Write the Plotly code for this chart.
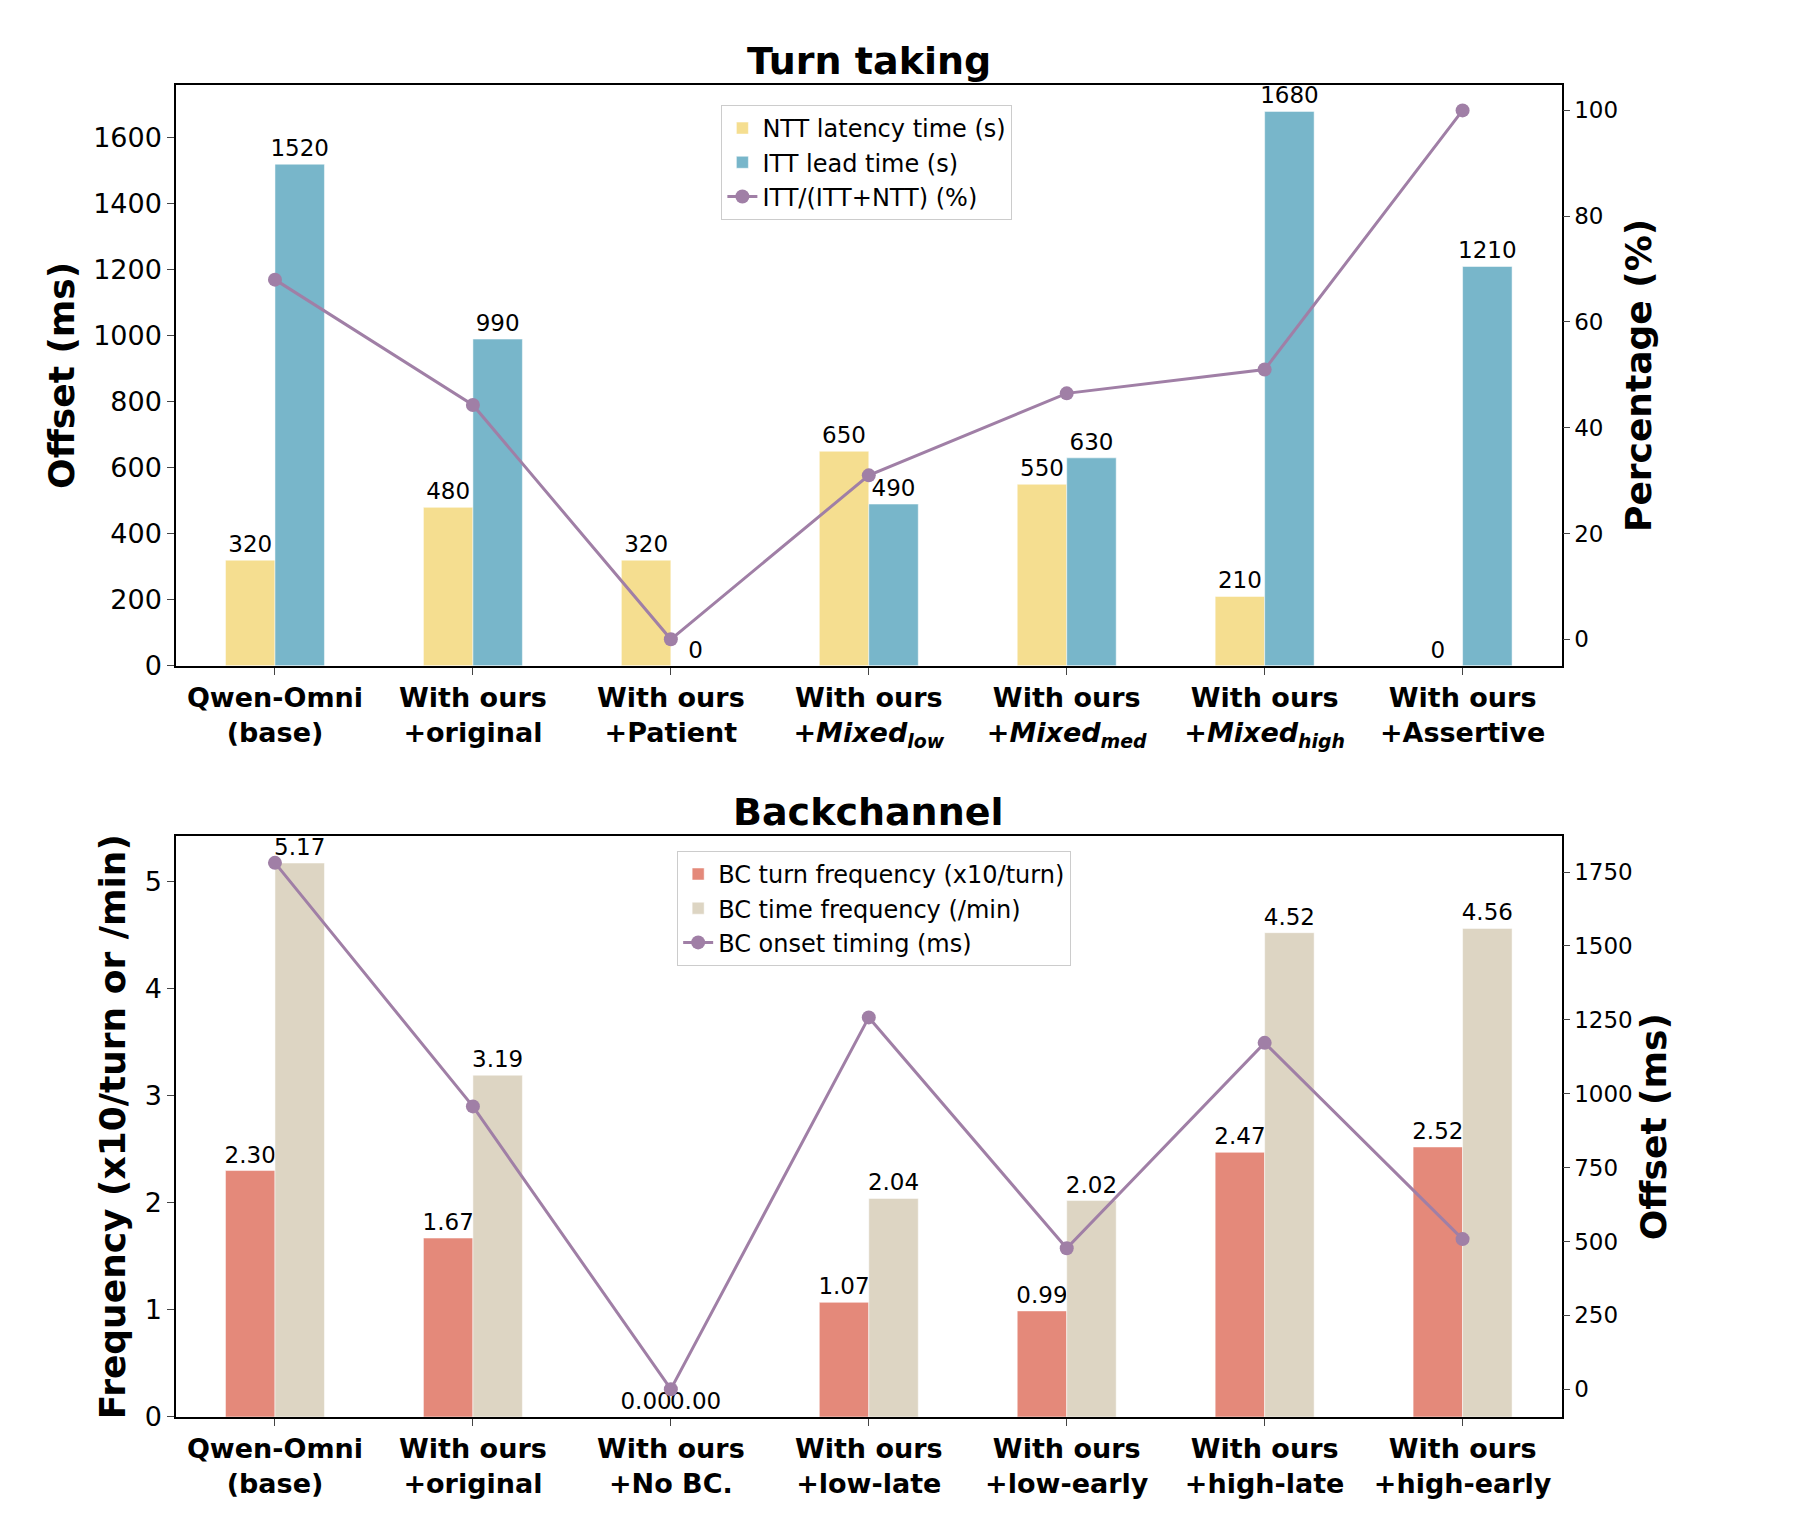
import plotly.graph_objects as go
from plotly.subplots import make_subplots

# top panel: turn taking
cats_top = ["<b>Qwen-Omni<br>(base)</b>", "<b>With ours<br>+original</b>", "<b>With ours<br>+Patient</b>",
            "<b>With ours<br>+<i>Mixed</i><sub><i>low</i></sub></b>", "<b>With ours<br>+<i>Mixed</i><sub><i>med</i></sub></b>",
            "<b>With ours<br>+<i>Mixed</i><sub><i>high</i></sub></b>", "<b>With ours<br>+Assertive</b>"]
ntt = [320, 480, 320, 650, 550, 210, 0]
itt = [1520, 990, 0, 490, 630, 1680, 1210]
itt_pct = [68, 44.3, 0, 31, 46.5, 51, 100]

# bottom panel: backchannel
cats_bot = ["<b>Qwen-Omni<br>(base)</b>", "<b>With ours<br>+original</b>", "<b>With ours<br>+No BC.</b>",
            "<b>With ours<br>+low-late</b>", "<b>With ours<br>+low-early</b>",
            "<b>With ours<br>+high-late</b>", "<b>With ours<br>+high-early</b>"]
bc_turn = [2.30, 1.67, 0.00, 1.07, 0.99, 2.47, 2.52]
bc_time = [5.17, 3.19, 0.00, 2.04, 2.02, 4.52, 4.56]
bc_onset = [1781, 957, 0, 1258, 477, 1172, 508]

FONT = "DejaVu Sans"
fig = make_subplots(rows=2, cols=1, vertical_spacing=0.128,
                    specs=[[{"secondary_y": True}], [{"secondary_y": True}]],
                    subplot_titles=["<b>Turn taking</b>", "<b>Backchannel</b>"])

lab = dict(textposition="outside", textfont=dict(size=23, color="black"), cliponaxis=False,
           constraintext="none")
fig.add_trace(go.Bar(x=cats_top, y=ntt, name="NTT latency time (s)", marker_color="#F5DE90",
                     text=[str(v) for v in ntt], legend="legend", **lab), row=1, col=1)
fig.add_trace(go.Bar(x=cats_top, y=itt, name="ITT lead time (s)", marker_color="#78B6CA",
                     text=[str(v) for v in itt], legend="legend", **lab), row=1, col=1)
fig.add_trace(go.Scatter(x=cats_top, y=itt_pct, name="ITT/(ITT+NTT) (%)", mode="lines+markers",
                         line=dict(color="#A07FA6", width=3), marker=dict(size=14), legend="legend"),
              row=1, col=1, secondary_y=True)

fig.add_trace(go.Bar(x=cats_bot, y=bc_turn, name="BC turn frequency (x10/turn)", marker_color="#E4897A",
                     text=[f"{v:.2f}" for v in bc_turn], legend="legend2", **lab), row=2, col=1)
fig.add_trace(go.Bar(x=cats_bot, y=bc_time, name="BC time frequency (/min)", marker_color="#DDD5C3",
                     text=[f"{v:.2f}" for v in bc_time], legend="legend2", **lab), row=2, col=1)
fig.add_trace(go.Scatter(x=cats_bot, y=bc_onset, name="BC onset timing (ms)", mode="lines+markers",
                         line=dict(color="#A07FA6", width=3), marker=dict(size=14), legend="legend2"),
              row=2, col=1, secondary_y=True)

leg = dict(font=dict(size=24, family=FONT), bgcolor="white", bordercolor="#cccccc", borderwidth=1,
           xanchor="left", yanchor="top")
fig.update_layout(
    width=1800, height=1516, template="simple_white", barmode="group", bargap=0.5, bargroupgap=0,
    font=dict(family=FONT, size=27, color="black"),
    margin=dict(l=168, r=158, t=77, b=107),
    legend=dict(x=0.37, y=0.985, **leg),
    legend2=dict(x=0.34, y=0.425, **leg),
)
fig.update_annotations(font=dict(size=38, family=FONT))

ax = dict(showline=True, linecolor="black", linewidth=1.5, mirror=True, ticks="outside", ticklen=7)
fig.update_xaxes(**ax)
fig.update_yaxes(row=1, col=1, secondary_y=False, range=[0, 1760], dtick=200, automargin=False,
                 title=dict(text="<b>Offset (ms)</b>", font=dict(size=36), standoff=8), **ax)
fig.update_yaxes(row=1, col=1, secondary_y=True, range=[-5, 104.8], dtick=20, showline=False,
                 ticks="outside", ticklen=7, tickfont=dict(size=23), automargin=False,
                 title=dict(text="<b>Percentage (%)</b>", font=dict(size=36), standoff=8))
fig.update_yaxes(row=2, col=1, secondary_y=False, range=[0, 5.42], dtick=1, automargin=False,
                 title=dict(text="<b>Frequency (x10/turn or /min)</b>", font=dict(size=36), standoff=8), **ax)
fig.update_yaxes(row=2, col=1, secondary_y=True, range=[-94, 1871], dtick=250, showline=False,
                 ticks="outside", ticklen=7, tickfont=dict(size=23), automargin=False,
                 title=dict(text="<b>Offset (ms)</b>", font=dict(size=36), standoff=8))

fig.write_html("out.html")
